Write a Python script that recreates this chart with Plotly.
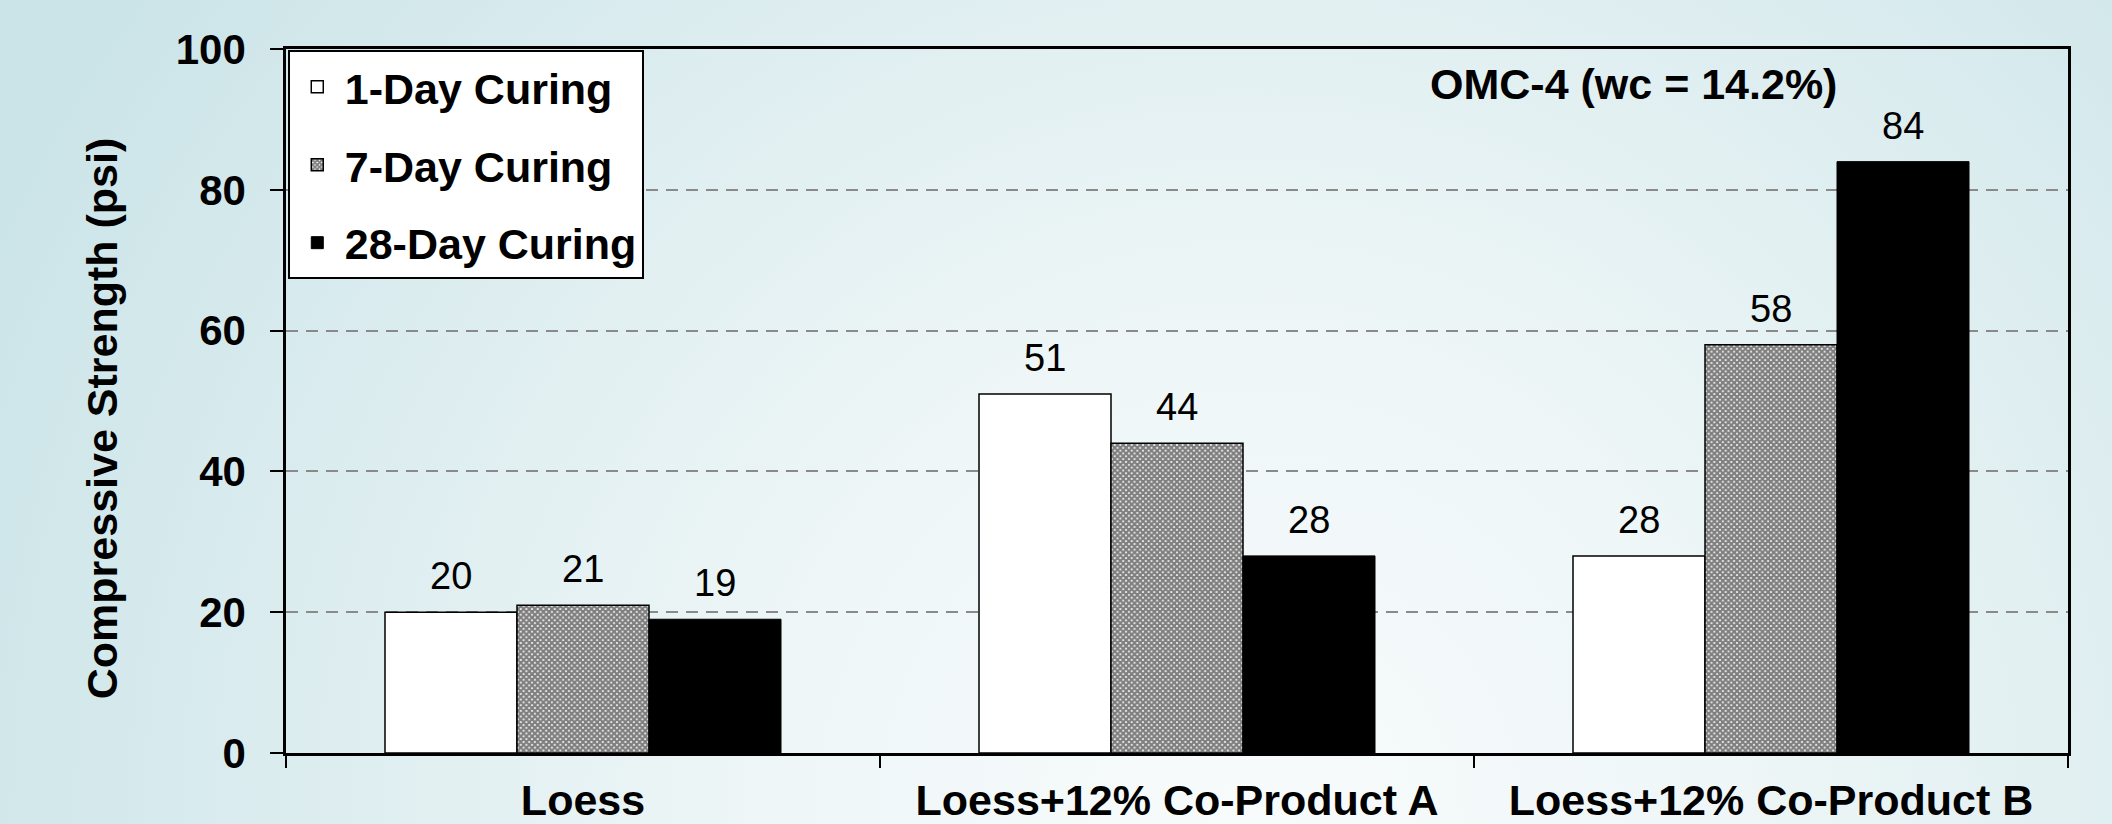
import base64
import plotly.graph_objects as go

# --- data -------------------------------------------------------------
categories = ["Loess", "Loess+12% Co-Product A", "Loess+12% Co-Product B"]
series_names = ["1-Day Curing", "7-Day Curing", "28-Day Curing"]
day1 = [20, 51, 28]
day7 = [21, 44, 58]
day28 = [19, 28, 84]
y_ticks = [0, 20, 40, 60, 80, 100]

# --- layout constants -------------------------------------------------
W, H = 2112, 824
M_L, M_R, M_T, M_B = 286, 44, 49, 71
PLOT_W = W - M_L - M_R
PLOT_H = H - M_T - M_B
FONT = "Arial, Liberation Sans, sans-serif"
BARGAP = 1 / 3
N_SERIES = 3

# soft radial background wash
svg = f"""<svg xmlns='http://www.w3.org/2000/svg' width='{W}' height='{H}'>
<defs><radialGradient id='g' gradientUnits='userSpaceOnUse' cx='1250' cy='824' r='1400'>
<stop offset='0' stop-color='#f8fbfc'/><stop offset='0.35' stop-color='#eef6f7'/>
<stop offset='1' stop-color='#cbe4e8'/></radialGradient></defs>
<rect width='{W}' height='{H}' fill='url(#g)'/></svg>"""
bg_uri = "data:image/svg+xml;base64," + base64.b64encode(svg.encode()).decode()

styles = [
    dict(color="white", line=dict(color="black", width=1.5)),
    dict(color="white", line=dict(color="black", width=1.5),
         pattern=dict(shape="x", fgcolor="black", bgcolor="white", size=4, solidity=0.8)),
    dict(color="black", line=dict(color="black", width=1)),
]

fig = go.Figure()
for i, (name, vals) in enumerate(zip(series_names, [day1, day7, day28])):
    fig.add_trace(go.Bar(
        x=categories, y=vals, name=name, marker=styles[i],
        legendgroup=name, hoverinfo="x+y+name",
    ))

# value labels above each bar
bar_w = (1 - BARGAP) / N_SERIES
annotations = []
for i, vals in enumerate([day1, day7, day28]):
    offset = (i - (N_SERIES - 1) / 2) * bar_w
    for j, v in enumerate(vals):
        annotations.append(dict(
            x=j + offset, y=v, xref="x", yref="y", text=str(v), showarrow=False,
            yanchor="middle", yshift=36,
            font=dict(family=FONT, size=38, color="black"),
        ))

annotations.append(dict(
    x=0.756, y=0.950, xref="paper", yref="paper", text="<b>OMC-4 (wc = 14.2%)</b>",
    showarrow=False, xanchor="center", yanchor="middle",
    font=dict(family=FONT, size=43, color="black"),
))
annotations.append(dict(
    x=(102 - M_L) / PLOT_W, y=0.4755, xref="paper", yref="paper",
    text="<b>Compressive Strength (psi)</b>", textangle=-90, showarrow=False,
    xanchor="center", yanchor="middle",
    font=dict(family=FONT, size=43, color="black"),
))

fig.update_layout(
    width=W, height=H,
    margin=dict(l=M_L, r=M_R, t=M_T, b=M_B, autoexpand=False),
    paper_bgcolor="#e4f1f3",
    plot_bgcolor="rgba(0,0,0,0)",
    barmode="group", bargap=BARGAP, bargroupgap=0,
    font=dict(family=FONT, color="black"),
    showlegend=True,
    legend=dict(
        x=0.001, y=0.998, xanchor="left", yanchor="top",
        bgcolor="white", bordercolor="black", borderwidth=2,
        font=dict(family=FONT, size=43, color="black", weight="bold"),
        traceorder="grouped", tracegroupgap=19, itemwidth=45,
    ),
    annotations=annotations,
    images=[dict(
        source=bg_uri, xref="paper", yref="paper",
        x=-M_L / PLOT_W, y=1 + M_T / PLOT_H,
        sizex=W / PLOT_W, sizey=H / PLOT_H,
        xanchor="left", yanchor="top", sizing="stretch", layer="below",
    )],
)

fig.update_xaxes(
    type="category", categoryorder="array", categoryarray=categories,
    tickson="boundaries", ticks="outside", ticklen=12, tickwidth=2, tickcolor="black",
    showline=True, linecolor="black", linewidth=2.5, mirror=True,
    showgrid=False, zeroline=False,
    tickfont=dict(family=FONT, size=43, color="black", weight="bold"),
    ticklabelstandoff=8,
)
fig.update_yaxes(
    range=[0, 100], tickvals=y_ticks, ticktext=[str(t) for t in y_ticks],
    ticks="outside", ticklen=13, tickwidth=2, tickcolor="black",
    showline=True, linecolor="black", linewidth=2.5, mirror=True,
    showgrid=True, gridcolor="#8a8a8a", gridwidth=2, griddash="12px,8px",
    zeroline=False,
    tickfont=dict(family=FONT, size=42, color="black", weight="bold"),
    ticklabelstandoff=16,
)

fig.write_html("out.html")
